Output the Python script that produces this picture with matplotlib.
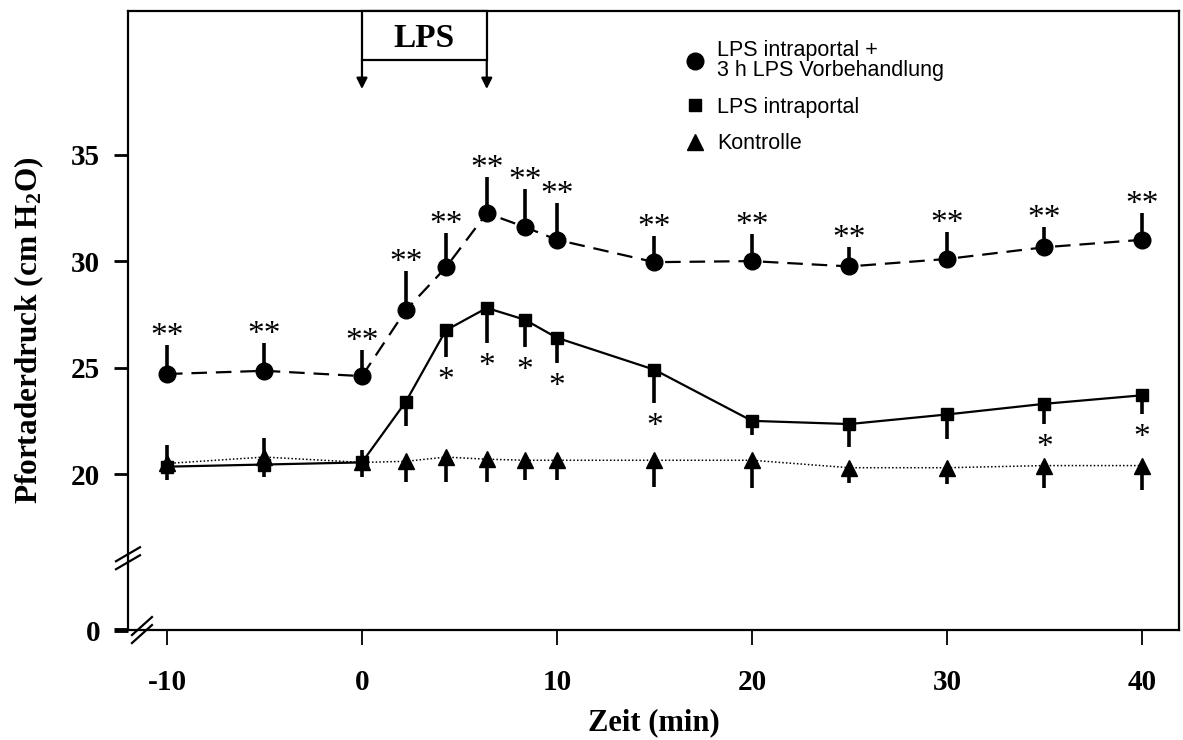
import matplotlib
matplotlib.use("Agg")
import matplotlib.pyplot as plt
import matplotlib.transforms as mtransforms
from matplotlib.lines import Line2D
from matplotlib.patches import Rectangle
import numpy as np

plt.rcParams['mathtext.fontset'] = 'custom'
plt.rcParams['mathtext.rm'] = 'Liberation Serif:bold'
plt.rcParams['mathtext.bf'] = 'Liberation Serif:bold'
plt.rcParams['mathtext.default'] = 'bf'

# Zeitpunkte (min) und Mittelwerte / SD der drei Gruppen
zeit = [-10, -5, 0, 2.25, 4.3, 6.4, 8.35, 10, 15, 20, 25, 30, 35, 40]

vorbeh = [24.7, 24.85, 24.6, 27.7, 29.7, 32.25, 31.6, 31.0, 29.95, 30.0, 29.75, 30.1, 30.65, 31.0]
vorbeh_sd = [1.36, 1.29, 1.22, 1.83, 1.6, 1.71, 1.78, 1.71, 1.22, 1.25, 0.9, 1.28, 0.97, 1.28]
vorbeh_sig = ['**'] * 14

lps = [20.35, 20.45, 20.55, 23.4, 26.75, 27.8, 27.25, 26.4, 24.9, 22.5, 22.35, 22.8, 23.3, 23.7]
lps_sd = [0.63, 0.59, 0.69, 1.15, 1.24, 1.66, 1.27, 1.2, 1.55, 0.67, 1.1, 1.17, 0.97, 0.9]
lps_sig = ['', '', '', '', '*', '*', '*', '*', '*', '', '', '', '*', '*']

kontrolle = [20.5, 20.8, 20.55, 20.6, 20.8, 20.7, 20.65, 20.65, 20.65, 20.65, 20.3, 20.3, 20.4, 20.4]
kontrolle_sd_lo = [0, 0, 0, 0.98, 1.16, 1.06, 0.93, 0.93, 1.25, 1.29, 0.7, 0.75, 1.05, 1.13]
kontrolle_sd_hi = [0.86, 0.89, 0.58, 0, 0, 0, 0, 0, 0, 0, 0, 0, 0, 0]

lps_start, lps_ende = 0, 6.4

serif = 'Liberation Serif'
sans = 'Liberation Sans'

fig = plt.figure(figsize=(11.83, 7.40), dpi=100)
ax = fig.add_axes([0.1082, 0.1486, 0.8884, 0.8365])

zero = np.zeros(len(zeit))
ax.errorbar(zeit, vorbeh, yerr=[zero, vorbeh_sd], fmt='none', ecolor='k', elinewidth=2.6, capsize=0)
ax.errorbar(zeit, lps, yerr=[lps_sd, zero], fmt='none', ecolor='k', elinewidth=2.6, capsize=0)
ax.errorbar(zeit, kontrolle, yerr=[kontrolle_sd_lo, kontrolle_sd_hi], fmt='none', ecolor='k',
            elinewidth=2.6, capsize=0)

ax.plot(zeit, kontrolle, color='k', lw=1.1, linestyle=(0, (1, 1.4)), marker='^', ms=11,
        label='Kontrolle', zorder=3)
ax.plot(zeit, lps, color='k', lw=1.6, linestyle='-', marker='s', ms=9,
        label='LPS intraportal', zorder=4)
ax.plot(zeit, vorbeh, color='k', lw=1.6, linestyle=(0, (7, 4)), marker='o', ms=12,
        label='LPS intraportal +\n3 h LPS Vorbehandlung', zorder=5)

# Signifikanzsterne
for x, y, s, sig in zip(zeit, vorbeh, vorbeh_sd, vorbeh_sig):
    ax.annotate(sig, (x, y + s), xytext=(0, 0), textcoords='offset points',
                ha='center', va='baseline', fontsize=24, family=serif)
for x, y, s, sig in zip(zeit, lps, lps_sd, lps_sig):
    if sig:
        ax.annotate(sig, (x, y - s), xytext=(0, -23), textcoords='offset points',
                    ha='center', va='baseline', fontsize=24, family=serif)

ax.set_xlim(-12.0, 41.9)
ax.set_ylim(12.68, 41.74)
ax.set_xticks([-10, 0, 10, 20, 30, 40])
ax.set_xticklabels(['-10', '0', '10', '20', '30', '40'])
ax.set_yticks([12.68, 20, 25, 30, 35])
ax.set_yticklabels(['0', '20', '25', '30', '35'])
for lab in ax.get_xticklabels() + ax.get_yticklabels():
    lab.set_family(serif)
    lab.set_fontweight('bold')
    lab.set_fontsize(21)
ax.tick_params(axis='x', direction='out', length=11, width=1.3, pad=17)
ax.tick_params(axis='y', direction='out', length=10, width=2, pad=10)
ax.yaxis.get_major_ticks()[0].tick1line.set_markeredgewidth(3.5)
for sp in ax.spines.values():
    sp.set_linewidth(1.6)

ax.set_xlabel('Zeit (min)', family=serif, fontweight='bold', fontsize=22, labelpad=9)
ax.set_ylabel(r'Pfortaderdruck (cm H$_2$O)', family=serif, fontweight='bold', fontsize=22.5)
ax.yaxis.set_label_coords(-0.078, 0.485)

# Achsenunterbrechungen
def bruch(x_ax, y_ax, dx, dy, gap):
    cx, cy = ax.transAxes.transform((x_ax, y_ax))
    for g in (-gap / 2, gap / 2):
        ox, oy = (g, 0) if dx < dy else (0, g)
        fig.add_artist(Line2D([cx - dx + ox, cx + dx + ox], [cy - dy + oy, cy + dy + oy],
                              transform=mtransforms.IdentityTransform(), color='k', lw=1.6))

bruch(0.0, 0.116, 12, 7, 8)
bruch(0.0133, 0.0, 10, 9, 8)

# LPS-Gabe
trans = mtransforms.blended_transform_factory(ax.transData, ax.transAxes)
ax.add_patch(Rectangle((lps_start, 0.921), lps_ende - lps_start, 0.079, transform=trans,
                       facecolor='white', edgecolor='k', lw=1.6, clip_on=False, zorder=6))
ax.text((lps_start + lps_ende) / 2, 0.955, 'LPS', transform=trans, ha='center', va='center',
        family=serif, fontweight='bold', fontsize=24, zorder=7)
for xa in (lps_start, lps_ende):
    ax.annotate('', xy=(xa, 0.874), xytext=(xa, 0.921), xycoords=trans, textcoords=trans,
                arrowprops=dict(arrowstyle='-|>', color='k', lw=1.6, mutation_scale=16,
                                shrinkA=0, shrinkB=0))

handles, labels = ax.get_legend_handles_labels()
hl = [Line2D([], [], color='k', marker=h.get_marker(), ms=h.get_markersize(), linestyle='none')
      for h in handles[::-1]]
leg = ax.legend(hl, labels[::-1], loc='upper left', bbox_to_anchor=(0.578, 0.946),
                bbox_transform=fig.transFigure, frameon=False, borderpad=0, borderaxespad=0,
                handlelength=1.0, handletextpad=0.55, labelspacing=0.72,
                prop={'family': sans, 'size': 15.5})
leg.get_texts()[0].set_linespacing(0.95)

fig.savefig('out.png', dpi=100)
